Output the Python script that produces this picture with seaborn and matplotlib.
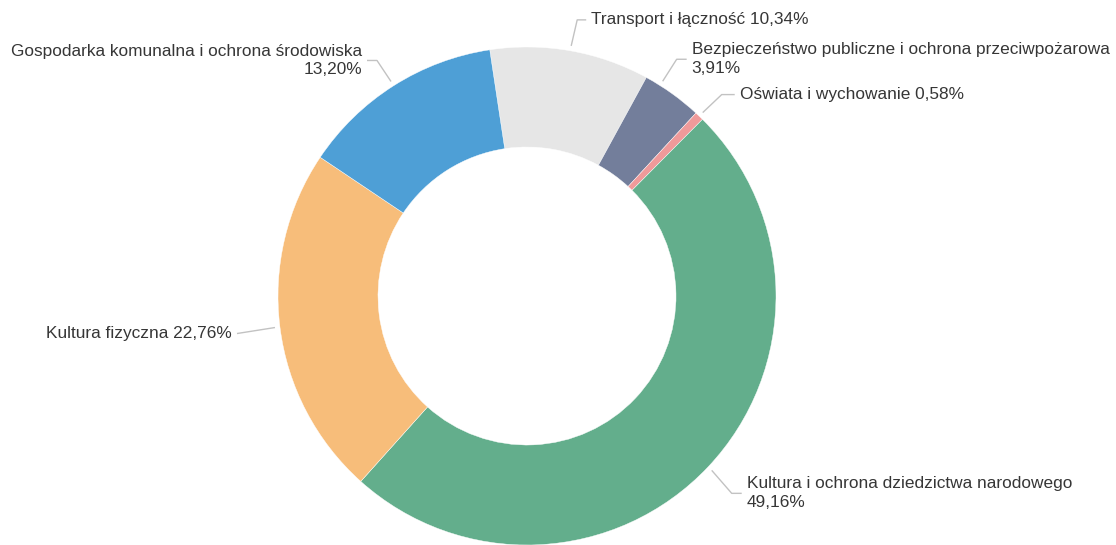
import matplotlib
matplotlib.use("Agg")
import matplotlib.pyplot as plt
import numpy as np
import seaborn as sns

# ── data ──────────────────────────────────────────────────────────────────────
categories = [
    "Transport i łączność",
    "Bezpieczeństwo publiczne i ochrona przeciwpożarowa",
    "Oświata i wychowanie",
    "Kultura i ochrona dziedzictwa narodowego",
    "Kultura fizyczna",
    "Gospodarka komunalna i ochrona środowiska",
]
shares = [10.34, 3.91, 0.58, 49.16, 22.76, 13.20]
colors = ["#e6e6e6", "#737e9b", "#ef9a9a", "#63ae8c", "#f7bd7a", "#4e9fd6"]

# ── label styling: elbow offset in px (x right, y down), horizontal run, side, wrap, angle nudge ──
label_style = [
    dict(elbow=(6, -26), run=9, side="right", wrap=False, nudge=0),
    dict(elbow=(14, -22), run=10, side="right", wrap=True, nudge=3.4),
    dict(elbow=(19, -18), run=13, side="right", wrap=False, nudge=0),
    dict(elbow=(20, 23), run=10, side="right", wrap=True, nudge=0),
    dict(elbow=(-38, 6), run=0, side="left", wrap=False, nudge=0),
    dict(elbow=(-14, -21), run=10, side="left", wrap=True, nudge=0),
]

sns.set_theme(style="white")
plt.rcParams["font.family"] = ["Liberation Sans", "DejaVu Sans"]

W, H = 1116, 545
fig = plt.figure(figsize=(W / 100, H / 100), dpi=100)
ax = fig.add_axes([0, 0, 1, 1])

cx, cy, R = 527, H - 296, 249
start = 90 + 8.6
wedges, _ = ax.pie(shares, colors=colors, startangle=start, counterclock=False,
                   center=(cx, cy), radius=R,
                   wedgeprops=dict(width=100, edgecolor="white", linewidth=0.3))
ax.set_xlim(0, W)
ax.set_ylim(0, H)
ax.set_aspect("equal")
ax.axis("off")

text_color = "#363636"
line_color = "#c2c2c2"
for w, name, val, st in zip(wedges, categories, shares, label_style):
    ang = np.deg2rad((w.theta1 + w.theta2) / 2 + st["nudge"])
    x0 = cx + (R + 5) * np.cos(ang)
    y0 = cy + (R + 5) * np.sin(ang)
    ex, ey = x0 + st["elbow"][0], y0 - st["elbow"][1]
    sign = 1 if st["side"] == "right" else -1
    x1 = ex + sign * st["run"]
    ax.plot([x0, ex, x1], [y0, ey, ey], color=line_color, lw=1, solid_capstyle="butt")
    pct = f"{val:.2f}".replace(".", ",") + "%"
    txt = f"{name}\n{pct}" if st["wrap"] else f"{name} {pct}"
    ax.text(x1 + sign * 5, ey, txt, ha="left" if sign > 0 else "right",
            va="center", multialignment="left" if sign > 0 else "right",
            fontsize=12.4, color=text_color, linespacing=1.32)

fig.savefig("out.png", dpi=100, facecolor="white")
